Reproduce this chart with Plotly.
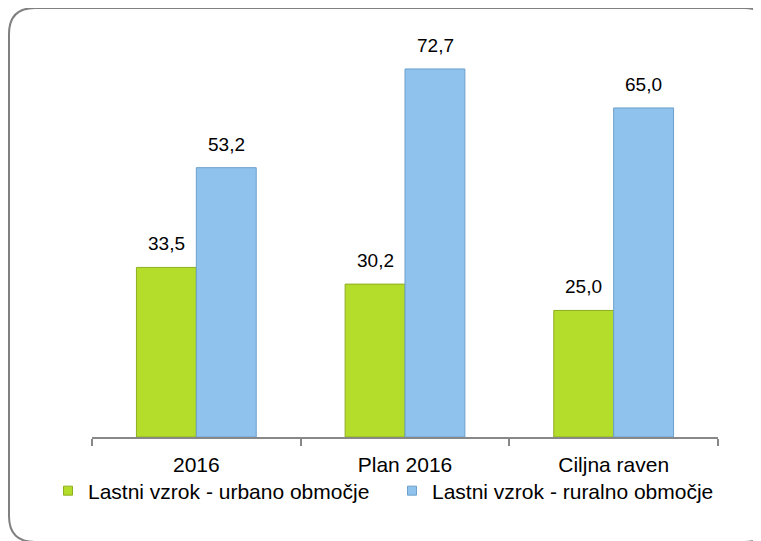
import plotly.graph_objects as go

categories = ["2016", "Plan 2016", "Ciljna raven"]
urbano = [33.5, 30.2, 25.0]
ruralno = [53.2, 72.7, 65.0]
series_names = ["Lastni vzrok - urbano območje", "Lastni vzrok - ruralno območje"]
colors = ["#b4dc2b", "#8fc3ee"]
edge_colors = ["#8fae1f", "#6c9fcb"]

W, H = 761, 541
L, R, T, B = 84, 51, 24, 112
pw, ph = W - L - R, H - T - B

def px(x):
    return (x - L) / pw

def py(y):
    return (H - B - y) / ph

FONT = "Liberation Sans, Arial, sans-serif"

fig = go.Figure()
for vals, name, c, ec in zip([urbano, ruralno], series_names, colors, edge_colors):
    fig.add_trace(go.Bar(x=categories, y=vals, name=name, showlegend=False,
                         marker=dict(color=c, line=dict(color=ec, width=1))))
# legend entries with small square markers
for name, c, ec in zip(series_names, colors, edge_colors):
    fig.add_trace(go.Scatter(x=[None], y=[None], mode="markers", name=name,
                             marker=dict(symbol="square", size=9, color=c,
                                         line=dict(color=ec, width=1))))

off = 30 / (pw / 3)
for i, (u, r) in enumerate(zip(urbano, ruralno)):
    for val, dx in ((u, -off), (r, off)):
        fig.add_annotation(x=i + dx, y=val, xref="x", yref="y", text=f"{val:.1f}".replace(".", ","),
                           showarrow=False, yanchor="bottom", yshift=11,
                           font=dict(size=19, color="#000", family=FONT))

# rounded border
x0, y0, x1, y1, rr = 1, 0, 762, 534, 26
path = (f"M {px(x0)} {py(y0+rr)} Q {px(x0)} {py(y0)} {px(x0+rr)} {py(y0)} "
        f"L {px(x1-rr)} {py(y0)} Q {px(x1)} {py(y0)} {px(x1)} {py(y0+rr)} "
        f"L {px(x1)} {py(y1-rr)} Q {px(x1)} {py(y1)} {px(x1-rr)} {py(y1)} "
        f"L {px(x0+rr)} {py(y1)} Q {px(x0)} {py(y1)} {px(x0)} {py(y1-rr)} Z")
fig.add_shape(type="path", path=path, xref="paper", yref="paper",
              line=dict(color="#808080", width=2), layer="below")

fig.update_layout(
    width=W, height=H,
    margin=dict(l=L, r=R, t=T, b=B),
    paper_bgcolor="white", plot_bgcolor="white",
    barmode="group", bargap=0.426, bargroupgap=0,
    separators=",.",
    font=dict(family=FONT, size=21, color="#000"),
    showlegend=True,
    legend=dict(orientation="h", x=px(40), xanchor="left", y=py(483), yanchor="middle",
                font=dict(size=21, family=FONT), itemwidth=30, tracegroupgap=0,
                entrywidth=299, entrywidthmode="pixels",
                bgcolor="rgba(0,0,0,0)", borderwidth=0),
    xaxis=dict(showline=True, linecolor="#888888", linewidth=1.5, ticks="outside",
               tickson="boundaries", ticklen=7, tickcolor="#888888", tickwidth=1.5,
               ticklabelstandoff=8, tickfont=dict(size=21, family=FONT), fixedrange=True),
    yaxis=dict(range=[0, 80], visible=False, showgrid=False, zeroline=False),
)

fig.write_html("out.html")
